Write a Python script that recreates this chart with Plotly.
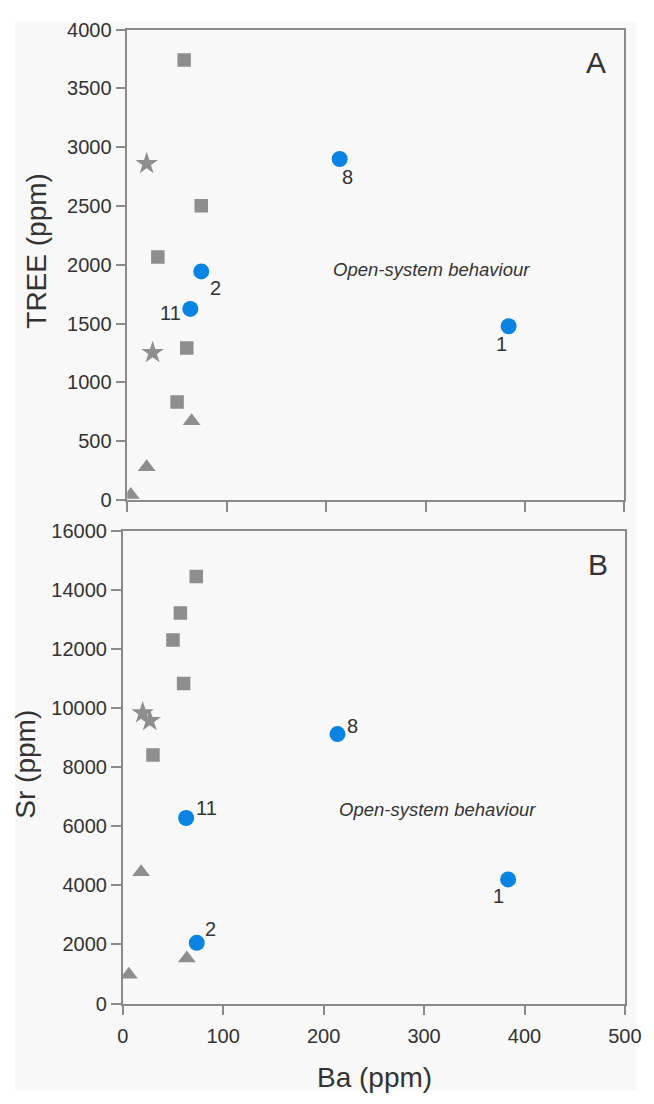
import plotly.graph_objects as go

W, H = 654, 1104

# ---------------- data ----------------
# Panel A : TREE vs Ba
a_sq_ba = [57.2, 74.4, 30.7, 59.8, 50.1]
a_sq_tree = [3742, 2503, 2067, 1292, 833]
a_star_ba = [19.5, 25.5]
a_star_tree = [2861, 1253]
a_tri_ba = [64.7, 19.5, 3.5]
a_tri_tree = [672, 280, 45]
a_blue_ba = [383.5, 74.4, 213.6, 63.4]
a_blue_tree = [1478, 1944, 2900, 1625]
blue_labels = ["1", "2", "8", "11"]

# Panel B : Sr vs Ba
b_sq_ba = [73.2, 57.4, 50.0, 60.6, 30.1]
b_sq_sr = [14461, 13224, 12305, 10836, 8415]
b_star_ba = [19.9, 26.9]
b_star_sr = [9841, 9575]
b_tri_ba = [18.3, 63.8, 6.1]
b_tri_sr = [4450, 1530, 980]
b_blue_ba = [383.7, 73.7, 213.8, 63.1]
b_blue_sr = [4202, 2056, 9121, 6282]

x_ticks = [0, 100, 200, 300, 400, 500]
a_y_ticks = [0, 500, 1000, 1500, 2000, 2500, 3000, 3500, 4000]
b_y_ticks = [0, 2000, 4000, 6000, 8000, 10000, 12000, 14000, 16000]

# ---------------- style ----------------
FONT = "Liberation Sans, Arial, sans-serif"
TXT = "#333333"
GRAY = "#8e8e8e"
BLUE = "#0a84e2"
AXC = "#8a8a8a"
BG = "#f8f8f8"

def px(x):
    return x / W

def py(y):
    return 1 - y / H

fig = go.Figure()

def add_panel(xa, ya, sq, st, tr, bl):
    fig.add_trace(go.Scatter(x=sq[0], y=sq[1], mode="markers", xaxis=xa, yaxis=ya,
                             marker=dict(symbol="square", size=13.5, color=GRAY), showlegend=False))
    fig.add_trace(go.Scatter(x=st[0], y=st[1], mode="markers", xaxis=xa, yaxis=ya,
                             marker=dict(symbol="star", size=17, color=GRAY), showlegend=False))
    fig.add_trace(go.Scatter(x=tr[0], y=tr[1], mode="markers", xaxis=xa, yaxis=ya,
                             marker=dict(symbol="triangle-up", size=15.5, color=GRAY), showlegend=False))
    fig.add_trace(go.Scatter(x=bl[0], y=bl[1], mode="markers", xaxis=xa, yaxis=ya,
                             marker=dict(symbol="circle", size=16, color=BLUE), showlegend=False))

add_panel("x", "y", (a_sq_ba, a_sq_tree), (a_star_ba, a_star_tree),
          (a_tri_ba, a_tri_tree), (a_blue_ba, a_blue_tree))
add_panel("x2", "y2", (b_sq_ba, b_sq_sr), (b_star_ba, b_star_sr),
          (b_tri_ba, b_tri_sr), (b_blue_ba, b_blue_sr))

annotations = []
a_off = {"1": (-7, 18), "2": (14, 17), "8": (8, 18), "11": (-20, 4)}
b_off = {"1": (-10, 17), "2": (14, -14), "8": (15, -8), "11": (20, -10)}
for lab, xv, yv in zip(blue_labels, a_blue_ba, a_blue_tree):
    dx, dy = a_off[lab]
    annotations.append(dict(x=xv, y=yv, xref="x", yref="y", text=lab, showarrow=False,
                            xanchor="center", yanchor="middle",
                            xshift=dx, yshift=-dy, font=dict(size=20, color=TXT, family=FONT)))
for lab, xv, yv in zip(blue_labels, b_blue_ba, b_blue_sr):
    dx, dy = b_off[lab]
    annotations.append(dict(x=xv, y=yv, xref="x2", yref="y2", text=lab, showarrow=False,
                            xanchor="center", yanchor="middle",
                            xshift=dx, yshift=-dy, font=dict(size=20, color=TXT, family=FONT)))

def note(x, y, text, size, angle=0, xref="paper", yref="paper"):
    return dict(x=x, y=y, xref=xref, yref=yref, text=text, showarrow=False,
                xanchor="center", yanchor="middle", textangle=angle,
                font=dict(size=size, color=TXT, family=FONT))

annotations += [
    note(306, 1960, "<i>Open-system behaviour</i>", 18.5, xref="x", yref="y"),
    note(313, 6558, "<i>Open-system behaviour</i>", 18.5, xref="x2", yref="y2"),
    note(px(611.7), py(53), "A", 30),
    note(px(613.5), py(565), "B", 30),
    note(px(31.7), py(245), "TREE (ppm)", 28, angle=-90),
    note(px(20.7), py(768), "Sr (ppm)", 28, angle=-90),
    note(px(381.5), py(1088), "Ba (ppm)", 28),
]

axis_common = dict(showline=True, linecolor=AXC, linewidth=1.5, mirror=True,
                   ticks="outside", ticklen=10, tickcolor=AXC, tickwidth=1.5,
                   showgrid=False, zeroline=False, ticklabeloverflow="allow",
                   tickfont=dict(size=20, color=TXT, family=FONT))

fig.update_layout(
    width=W, height=H,
    margin=dict(l=0, r=0, t=0, b=0),
    paper_bgcolor="white",
    plot_bgcolor=BG,
    font=dict(family=FONT, color=TXT),
    showlegend=False,
    xaxis=dict(domain=[px(125.7), px(641)], range=[0, 500], tickvals=x_ticks,
               showticklabels=False, anchor="y", **axis_common),
    yaxis=dict(domain=[py(499), py(19)], range=[0, 4000], tickvals=a_y_ticks,
               ticktext=[str(v) for v in a_y_ticks], anchor="x", **axis_common),
    xaxis2=dict(domain=[px(121), px(641.5)], range=[0, 500], tickvals=x_ticks,
                ticktext=[str(v) for v in x_ticks], ticklabelstandoff=4,
                anchor="y2", **axis_common),
    yaxis2=dict(domain=[py(1012.7), py(530.5)], range=[0, 16000], tickvals=b_y_ticks,
                ticktext=[str(v) for v in b_y_ticks], anchor="x2", **axis_common),
    annotations=annotations,
    shapes=[dict(type="rect", xref="paper", yref="paper", x0=px(9.2), x1=1.0,
                 y0=py(1101.7), y1=py(10.7), fillcolor=BG, line=dict(width=0), layer="below")],
)

fig.write_html("out.html")
